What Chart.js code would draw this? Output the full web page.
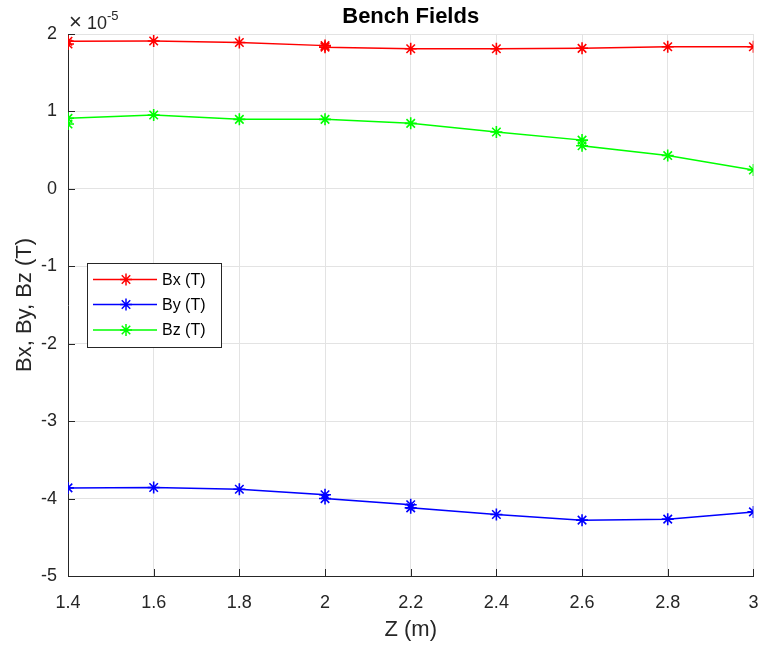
<!DOCTYPE html>
<html>
<head>
<meta charset="utf-8">
<script src="https://cdn.jsdelivr.net/npm/chart.js@4.4.0/dist/chart.umd.min.js"></script>
<style>
  html, body { margin: 0; padding: 0; background: #fff; }
  #wrap { width: 761px; height: 646px; }
</style>
</head>
<body>
<div id="wrap"><canvas id="benchChart" width="761" height="646"></canvas></div>
<script>
// values in units of 1e-5 T
const zBx = [1.4, 1.4, 1.6, 1.8, 2.0, 2.0, 2.2, 2.4, 2.6, 2.8, 3.0];
const bx = [1.87, 1.906, 1.91, 1.89, 1.85, 1.83, 1.81, 1.81, 1.815, 1.836, 1.836];

const zBy = [1.4, 1.6, 1.8, 2.0, 2.0, 2.2, 2.2, 2.4, 2.6, 2.8, 3.0];
const by = [-3.862, -3.857, -3.88, -3.95, -4.0, -4.08, -4.12, -4.206, -4.279, -4.266, -4.172];

const zBz = [1.4, 1.4, 1.6, 1.8, 2.0, 2.2, 2.4, 2.6, 2.6, 2.8, 3.0];
const bz = [0.837, 0.911, 0.954, 0.898, 0.898, 0.846, 0.734, 0.63, 0.557, 0.43, 0.244];

const seriesNames = ['Bx (T)', 'By (T)', 'Bz (T)'];
const xTicks = [1.4, 1.6, 1.8, 2.0, 2.2, 2.4, 2.6, 2.8, 3.0];
const yTicks = [-5, -4, -3, -2, -1, 0, 1, 2];

const FONT = "'Liberation Sans', Arial, Helvetica, sans-serif";
const AXIS_COLOR = '#262626';

function toPoints(xs, ys) {
  return xs.map((x, i) => ({ x: x, y: ys[i] }));
}

function makeSet(label, xs, ys, color) {
  return {
    label: label,
    data: toPoints(xs, ys),
    borderColor: color,
    backgroundColor: color,
    borderWidth: 1.5,
    showLine: true,
    pointStyle: 'star',
    pointRadius: 6,
    pointBorderWidth: 1.6,
    pointHoverRadius: 6,
    tension: 0,
  };
}

// tick marks pointing into the plot, like MATLAB
const innerTicks = {
  id: 'innerTicks',
  afterDatasetsDraw(chart) {
    const { ctx, chartArea, scales } = chart;
    ctx.save();
    ctx.strokeStyle = AXIS_COLOR;
    ctx.lineWidth = 1;
    xTicks.forEach((v) => {
      const px = Math.round(scales.x.getPixelForValue(v)) + 0.5;
      ctx.beginPath();
      ctx.moveTo(px, chartArea.bottom);
      ctx.lineTo(px, chartArea.bottom - 7);
      ctx.stroke();
    });
    yTicks.forEach((v) => {
      const py = Math.round(scales.y.getPixelForValue(v)) + 0.5;
      ctx.beginPath();
      ctx.moveTo(chartArea.left, py);
      ctx.lineTo(chartArea.left + 7, py);
      ctx.stroke();
    });
    ctx.restore();
  }
};

// title, exponent and the legend box inside the axes
const decorations = {
  id: 'decorations',
  afterDraw(chart) {
    const { ctx, chartArea } = chart;
    ctx.save();
    ctx.fillStyle = '#000';
    ctx.font = `bold 22px ${FONT}`;
    ctx.textAlign = 'center';
    ctx.textBaseline = 'middle';
    ctx.fillText('Bench Fields', (chartArea.left + chartArea.right) / 2, 17);

    ctx.fillStyle = AXIS_COLOR;
    ctx.textAlign = 'left';
    ctx.textBaseline = 'alphabetic';
    ctx.font = `22px ${FONT}`;
    ctx.fillText('\u00d7', chartArea.left + 1, 29);
    ctx.font = `18px ${FONT}`;
    ctx.fillText('10', chartArea.left + 19, 29);
    ctx.font = `13px ${FONT}`;
    ctx.fillText('-5', chartArea.left + 39, 20);

    // legend
    const bx0 = 87, by0 = 263, bw = 134, bh = 84;
    ctx.fillStyle = '#fff';
    ctx.fillRect(bx0, by0, bw, bh);
    ctx.strokeStyle = AXIS_COLOR;
    ctx.lineWidth = 1;
    ctx.strokeRect(bx0 + 0.5, by0 + 0.5, bw, bh);
    const rowY = [279.5, 304.5, 330];
    chart.data.datasets.forEach((ds, i) => {
      const y = rowY[i];
      ctx.strokeStyle = ds.borderColor;
      ctx.lineWidth = 1.5;
      ctx.beginPath();
      ctx.moveTo(93, y);
      ctx.lineTo(157, y);
      ctx.stroke();
      Chart.helpers.drawPoint(ctx, { pointStyle: 'star', radius: 6, borderWidth: 1.6 }, 126, y);
      ctx.fillStyle = '#000';
      ctx.font = `16px ${FONT}`;
      ctx.textBaseline = 'middle';
      ctx.fillText(ds.label, 162, y + 1);
    });
    ctx.restore();
  }
};

const ctx = document.getElementById('benchChart').getContext('2d');
const benchChart = new Chart(ctx, {
  type: 'scatter',
  data: {
    datasets: [
      makeSet(seriesNames[0], zBx, bx, '#ff0000'),
      makeSet(seriesNames[1], zBy, by, '#0000ff'),
      makeSet(seriesNames[2], zBz, bz, '#00ff00'),
    ],
  },
  options: {
    responsive: false,
    animation: false,
    events: [],
    layout: { padding: { top: 34, right: 7, left: 0, bottom: 0 } },
    plugins: {
      legend: { display: false },
      tooltip: { enabled: false },
    },
    scales: {
      x: {
        type: 'linear',
        min: 1.4,
        max: 3,
        afterBuildTicks: (scale) => { scale.ticks = xTicks.map((v) => ({ value: v })); },
        afterFit: (scale) => {
          scale.height = 70;
          scale.paddingLeft = 0;
          scale.paddingRight = 0;
        },
        ticks: {
          color: AXIS_COLOR,
          font: { family: FONT, size: 18 },
          padding: 16,
          maxRotation: 0,
          callback: (v) => String(Math.round(v * 10) / 10),
        },
        grid: { color: '#e3e3e3', drawTicks: false },
        border: { display: true, color: AXIS_COLOR, width: 1 },
        title: {
          display: true,
          text: 'Z (m)',
          color: AXIS_COLOR,
          font: { family: FONT, size: 22 },
          padding: { top: 0, bottom: 3 },
        },
      },
      y: {
        type: 'linear',
        min: -5,
        max: 2,
        afterBuildTicks: (scale) => { scale.ticks = yTicks.map((v) => ({ value: v })); },
        afterFit: (scale) => {
          scale.width = 68;
          scale.paddingTop = 0;
          scale.paddingBottom = 0;
        },
        ticks: {
          color: AXIS_COLOR,
          font: { family: FONT, size: 18 },
          padding: 11,
          callback: (v) => String(v),
        },
        grid: { color: '#e3e3e3', drawTicks: false },
        border: { display: true, color: AXIS_COLOR, width: 1 },
        title: {
          display: true,
          text: 'Bx, By, Bz (T)',
          color: AXIS_COLOR,
          font: { family: FONT, size: 22 },
          padding: 12,
        },
      },
    },
  },
  plugins: [innerTicks, decorations],
});
</script>
</body>
</html>
